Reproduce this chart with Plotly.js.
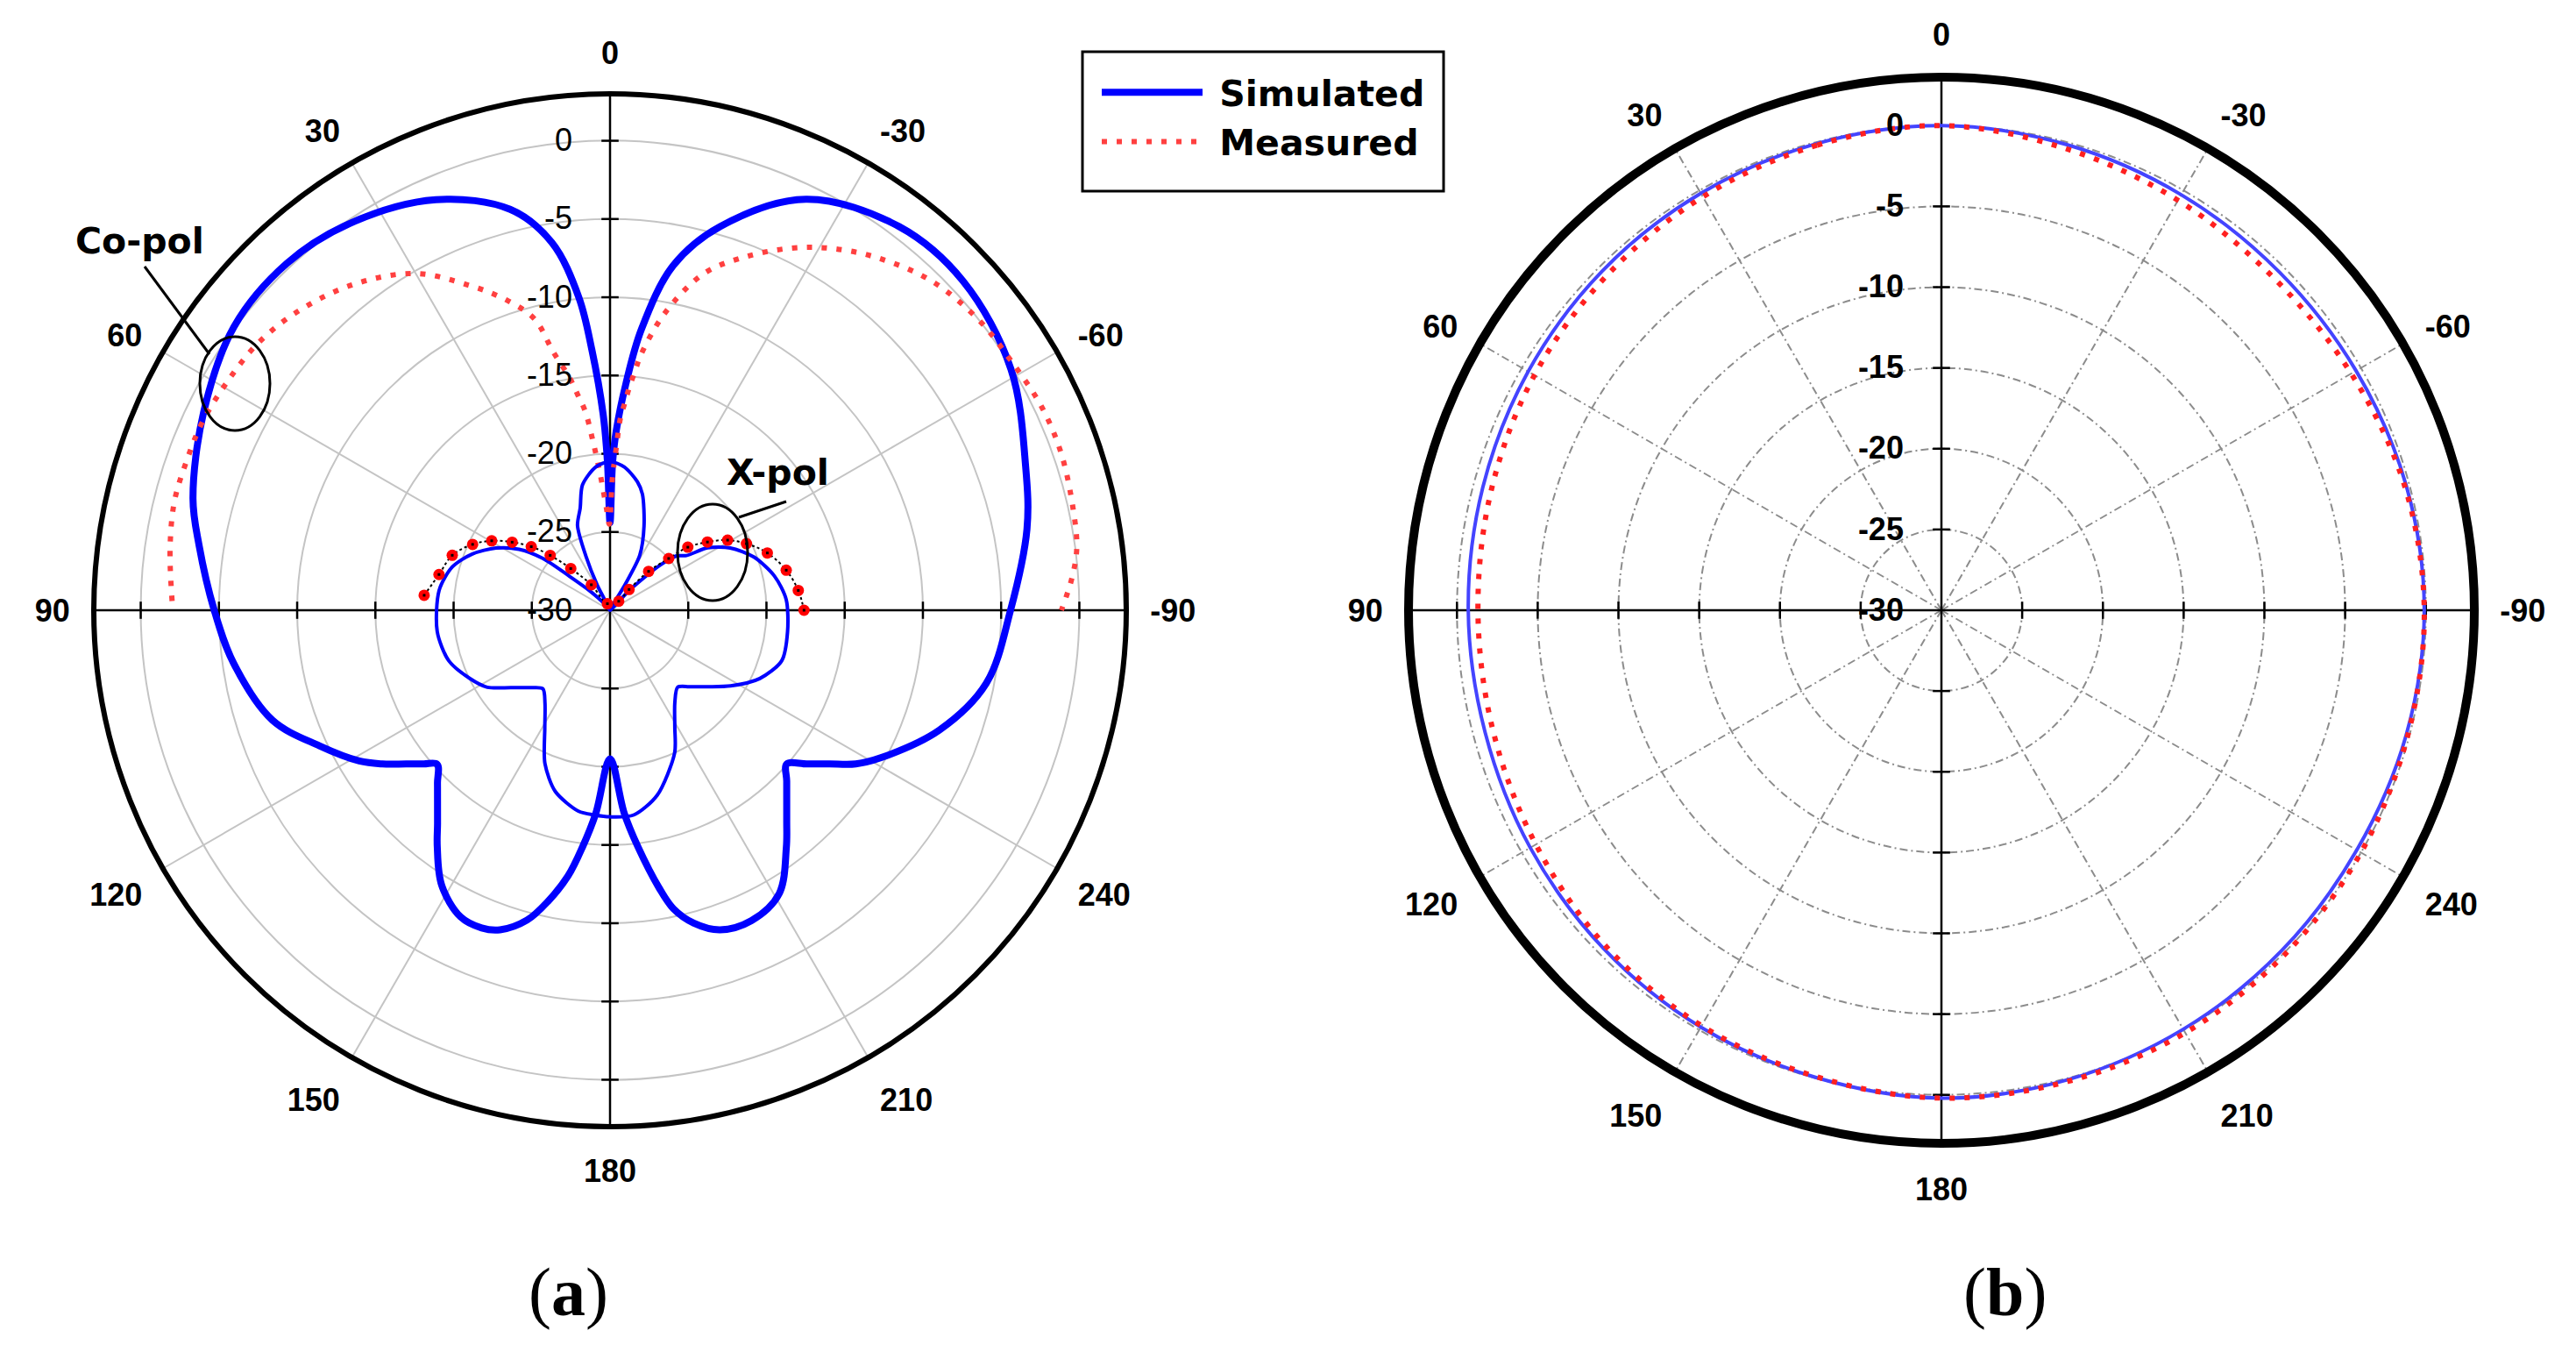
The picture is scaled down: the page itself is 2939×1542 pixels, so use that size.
<!DOCTYPE html>
<html>
<head>
<meta charset="utf-8">
<script src="https://cdn.plot.ly/plotly-3.0.1.min.js"></script>
<style>html,body{margin:0;padding:0;background:#fff;}#chart{width:2939px;height:1542px;}</style>
</head>
<body>
<div id="chart"></div>
<script>
// ---------- data ----------
const ANGLE_TICKS = [0, 30, 60, 90, 120, 150, 180, 210, 240, 270, 300, 330];
const ANGLE_LABELS = ['0', '30', '60', '90', '120', '150', '180', '210', '240', '-90', '-60', '-30'];
const RADIAL_TICKS = [-30, -25, -20, -15, -10, -5, 0];
const RADIAL_LABELS = ['-30', '-25', '-20', '-15', '-10', '-5', '0'];
const R_MIN = -30, R_MAX = 3;

// (a) co-polar, simulated (dB vs angle, angle counter-clockwise from top)
const copolSimTheta = [0, 1, 2, 4, 5.7, 9, 14, 23, 34, 43, 53, 64, 75, 81, 90, 98, 108, 115, 121,
  124, 127, 129.5, 131.7, 135, 138, 141, 143.8, 148.5, 154, 158, 161, 165, 168, 171, 173.4, 176, 180,
  -176, -173.3, -170, -168, -165, -161, -155.5, -149.2, -143.4, -140, -137, -134, -131, -128, -125, -122, -118.6,
  -110, -101, -90, -79, -71, -59, -47, -37, -25.5, -16, -10.4, -6.4, -4, -2, -1, 0];
const copolSimR = [-24.4, -20.5, -17.5, -13.3, -9.9, -6.2, -3.6, -1.5, -0.2, 0.3, 0.1, -1.1, -2.4, -3.4, -4.7, -5.7, -7.3, -9.5, -11.3,
  -12.44, -13.68, -14.56, -15.2, -14.4, -13.52, -12.48, -11.3, -9.4, -8.2, -8.1, -8.4, -9.5, -11.0, -12.8, -14.8, -17.0, -20.5,
  -17.0, -14.8, -12.0, -10.5, -9.3, -8.4, -8.2, -8.9, -11.1, -12.43, -13.44, -14.3, -15.03, -14.05, -12.88, -11.47, -10.3,
  -7.6, -5.5, -4.4, -2.85, -1.9, -0.1, 0.85, 0.7, -0.9, -4.5, -7.6, -11.9, -15.5, -18.5, -20.5, -24.4];

// (a) co-polar, measured
const copolMeasTheta = [88.8, 82, 76, 70.7, 65.3, 59.4, 53, 46.5, 38.5, 30.2, 23.5, 18.2, 14.5, 12.4, 9.9, 8.5, 7.1, 5.8, 4.2, 2, 0.5, -1, -2.2, -3.1, -4.1, -4.95, -6, -6.9,
  -10.5, -15.6, -20.7, -26.5, -31.3, -37.1, -44.4, -51.9, -58, -64.8, -70.9, -77.7, -82.4, -86, -90];
const copolMeasR = [-2.0, -1.6, -1.3, -1.3, -1.3, -1.5, -1.75, -2.35, -3.45, -5.1, -7.35, -9.2, -10.8, -13.1, -14.9, -16.1, -17.2, -19.1, -21.2, -23.5, -24.5, -21.6, -19.6, -17.7, -16.7, -15.7, -14.6, -13.55,
  -10.66, -7.65, -5.9, -4.15, -2.93, -1.74, -0.58, 0, 0.18, 0.5, 0.53, 0.3, 0.1, -0.4, -1.15];

// (a) cross-polar, simulated
const xpolSimTheta = [34, 27, 24, 21, 16.3, 12.4, 5.7, 0, -5.7, -12, -15.6, -22, -28.4, -30.4, -34,
  -44, -46, -48, -50.8, -54.4, -57.4, -62.6, -69.7, -78.2, -86.5, -96.9, -106.4, -114.5, -122.1, -128, -134, -138.7,
  -145, -151, -155.6, -165.7, -173.4, 180, 175.7, 171.1, 163.2, 157, 151, 145, 139.4, 134, 128, 122.1,
  115.9, 107.4, 97, 83.4, 74.7, 67.8, 61.4, 56.2, 52.4, 50.1, 46.3, 40, 34];
const xpolSimR = [-30, -28.2, -26.2, -24.2, -23.2, -21.8, -20.8, -20.5, -20.8, -21.6, -22.3, -24.2, -26.0, -28.1, -30,
  -28.4, -27.2, -25.7, -24.5, -24.0, -22.6, -21.35, -20.2, -19.27, -18.72, -18.57, -18.56, -19.48, -20.9, -22.06, -22.97, -23.45,
  -22.78, -21.46, -20.0, -17.8, -16.83, -16.8, -16.88, -17.0, -17.9, -19.35, -21.4, -22.75, -23.4, -22.88, -21.97, -20.74,
  -20.03, -19.2, -18.87, -19.0, -19.54, -20.49, -21.7, -23.0, -24.56, -26.58, -28.18, -29.5, -30];

// (a) cross-polar, measured
const xpolMeasTheta = [85.4, 78.2, 70.8, 64.4, 59.6, 55.2, 51.1, 47.5, 43.3, 36.3, 22, -44, -42.5, -44.8, -48.6, -51, -55, -59.2, -64, -70, -77.2, -84, -90];
const xpolMeasR = [-18.08, -18.83, -19.32, -20.26, -21.23, -22.38, -23.53, -24.81, -26.34, -27.98, -29.55, -29.2, -28.2, -26.5, -25.0, -23.6, -22.4, -21.25, -20.3, -19.3, -18.45, -17.9, -17.6];

// (b) pattern
const bTheta = [0, 15, 30, 45, 60, 75, 90, 105, 120, 135, 150, 165, 180, 195, 210, 225, 240, 255, 270, 285, 300, 315, 330, 345, 360];
const bSimR = [0, -0.1, -0.2, -0.3, -0.45, -0.6, -0.7, -0.75, -0.6, -0.4, -0.2, -0.05, 0.2, 0.1, -0.05, -0.2, -0.3, -0.2, -0.1, -0.2, -0.35, -0.4, -0.3, -0.15, 0];
const bMeasR = [0, -0.2, -0.45, -0.7, -0.9, -1.15, -1.3, -1.25, -1.0, -0.6, -0.3, -0.1, 0.2, 0.2, 0.2, 0.1, 0.0, -0.1, -0.1, -0.3, -0.7, -0.9, -0.7, -0.4, 0];

const LEGEND_NAMES = ['Simulated', 'Measured'];

// ---------- helpers (pixel -> paper) ----------
const W = 2939, H = 1542;
const px = x => x / W;
const py = y => 1 - y / H;

const FONT = 'Liberation Sans, Arial, sans-serif';
const LFONT = 'DejaVu Sans, Verdana, sans-serif';

function crossTraces(sub, ext) {
  const out = [];
  [[0, 180], [90, 270]].forEach(pair => {
    out.push({type: 'scatterpolar', subplot: sub, mode: 'lines', cliponaxis: false,
      theta: [pair[0], pair[0], pair[1]], r: [ext, R_MIN, ext],
      line: {color: 'black', width: 2.5}, showlegend: false, hoverinfo: 'skip'});
  });
  const th = [], rr = [], sym = [];
  [0, 90, 180, 270].forEach(a => {
    RADIAL_TICKS.slice(1).forEach(v => {
      th.push(a); rr.push(v); sym.push(a % 180 === 0 ? 'line-ew' : 'line-ns');
    });
  });
  out.push({type: 'scatterpolar', subplot: sub, mode: 'markers', theta: th, r: rr,
    marker: {symbol: sym, size: 14, color: 'black', line: {color: 'black', width: 2.5}},
    showlegend: false, hoverinfo: 'skip'});
  return out;
}

const traces = [];
traces.push(...crossTraces('polar', 3.7));
traces.push(...crossTraces('polar2', 3.9));

traces.push({type: 'scatterpolar', subplot: 'polar', mode: 'lines', name: '\u00a0' + LEGEND_NAMES[0], legendgroup: 'sim',
  theta: copolSimTheta, r: copolSimR, line: {color: '#0000ff', width: 8, shape: 'spline', smoothing: 1}});
traces.push({type: 'scatterpolar', subplot: 'polar', mode: 'lines', name: '\u00a0' + LEGEND_NAMES[1], legendgroup: 'meas',
  theta: copolMeasTheta, r: copolMeasR, line: {color: '#ff4040', width: 6, dash: '6px,11px', shape: 'spline', smoothing: 1}});
traces.push({type: 'scatterpolar', subplot: 'polar', mode: 'lines', name: 'Simulated X-pol', legendgroup: 'sim', showlegend: false,
  theta: xpolSimTheta, r: xpolSimR, line: {color: '#0000ff', width: 4, shape: 'spline', smoothing: 0.8}});
traces.push({type: 'scatterpolar', subplot: 'polar', mode: 'lines+markers', name: 'Measured X-pol', legendgroup: 'meas', showlegend: false,
  theta: xpolMeasTheta, r: xpolMeasR, line: {color: 'black', width: 2, dash: 'dot', shape: 'spline'},
  marker: {symbol: 'circle', size: 13, color: '#ff0000'}});
traces.push({type: 'scatterpolar', subplot: 'polar', mode: 'markers', showlegend: false, hoverinfo: 'skip',
  theta: xpolMeasTheta, r: xpolMeasR, marker: {symbol: 'square', size: 3, color: 'black'}});

traces.push({type: 'scatterpolar', subplot: 'polar2', mode: 'lines', name: 'Simulated (b)', legendgroup: 'sim', showlegend: false,
  theta: bTheta, r: bSimR, line: {color: '#4444ff', width: 4, shape: 'spline'}});
traces.push({type: 'scatterpolar', subplot: 'polar2', mode: 'lines', name: 'Measured (b)', legendgroup: 'meas', showlegend: false,
  theta: bTheta, r: bMeasR, line: {color: '#ff2020', width: 6, dash: '6px,11px', shape: 'spline'}});

function polarLayout(dom, gridDash, gridColor, outerWidth, radialBold) {
  return {
    domain: dom,
    bgcolor: 'white',
    angularaxis: {
      direction: 'counterclockwise', rotation: 90,
      tickmode: 'array', tickvals: ANGLE_TICKS, ticktext: ANGLE_LABELS,
      showline: true, linecolor: 'black', linewidth: outerWidth,
      showgrid: true, gridcolor: gridColor, gridwidth: 2, griddash: gridDash,
      ticks: 'outside', ticklen: 17, tickcolor: 'rgba(0,0,0,0)',
      tickfont: {family: FONT, size: 36, color: 'black', weight: 'bold'}
    },
    radialaxis: {
      range: [R_MIN, R_MAX], angle: 90, tickangle: 90, side: 'counterclockwise',
      tickmode: 'array', tickvals: RADIAL_TICKS, ticktext: RADIAL_LABELS,
      showline: false, showgrid: true, gridcolor: gridColor, gridwidth: 2, griddash: gridDash,
      ticks: 'outside', ticklen: 30, tickcolor: 'rgba(0,0,0,0)',
      tickfont: {family: FONT, size: 36, color: 'black', weight: radialBold ? 'bold' : 'normal'}
    }
  };
}

const annFont = {family: LFONT, size: 41, color: 'black', weight: 'bold'};
const serifFont = {family: 'Liberation Serif, Times New Roman, serif', size: 78, color: 'black'};

const layout = {
  width: W, height: H,
  margin: {l: 0, r: 0, t: 0, b: 0},
  paper_bgcolor: 'white',
  showlegend: true,
  legend: {
    x: px(1252), y: py(72), xanchor: 'left', yanchor: 'top',
    bgcolor: 'rgba(0,0,0,0)', borderwidth: 0,
    font: annFont,
    itemwidth: 115, tracegroupgap: 0
  },
  polar: polarLayout({x: [px(107), px(1285)], y: [py(1285), py(107)]}, 'solid', '#c4c4c4', 6, false),
  polar2: polarLayout({x: [px(1607), px(2823)], y: [py(1304), py(88)]}, '9px,4px,2px,4px', '#8c8c8c', 10, true),
  annotations: [
    {text: 'Co-pol', x: px(159), y: py(275), xref: 'paper', yref: 'paper', xanchor: 'center', yanchor: 'middle', showarrow: false, font: annFont},
    {text: 'X-pol', x: px(888), y: py(539), xref: 'paper', yref: 'paper', xanchor: 'center', yanchor: 'middle', showarrow: false, font: annFont},
    {text: '(<b>a</b>)', x: px(648), y: py(1473), xref: 'paper', yref: 'paper', xanchor: 'center', yanchor: 'middle', showarrow: false, font: serifFont},
    {text: '(<b>b</b>)', x: px(2287), y: py(1473), xref: 'paper', yref: 'paper', xanchor: 'center', yanchor: 'middle', showarrow: false, font: serifFont}
  ],
  shapes: [
    {type: 'rect', xref: 'paper', yref: 'paper', x0: px(1235), x1: px(1647), y0: py(218), y1: py(59), line: {color: 'black', width: 3}, fillcolor: 'white', layer: 'below'},
    {type: 'circle', xref: 'paper', yref: 'paper', x0: px(228), x1: px(308), y0: py(491), y1: py(384), line: {color: 'black', width: 3}},
    {type: 'line', xref: 'paper', yref: 'paper', x0: px(165), y0: py(304), x1: px(239), y1: py(404), line: {color: 'black', width: 3}},
    {type: 'circle', xref: 'paper', yref: 'paper', x0: px(773), x1: px(853), y0: py(685), y1: py(575), line: {color: 'black', width: 3}},
    {type: 'line', xref: 'paper', yref: 'paper', x0: px(843), y0: py(590), x1: px(897), y1: py(572), line: {color: 'black', width: 3}}
  ]
};

Plotly.newPlot('chart', traces, layout, {displayModeBar: false, staticPlot: true});
</script>
</body>
</html>
